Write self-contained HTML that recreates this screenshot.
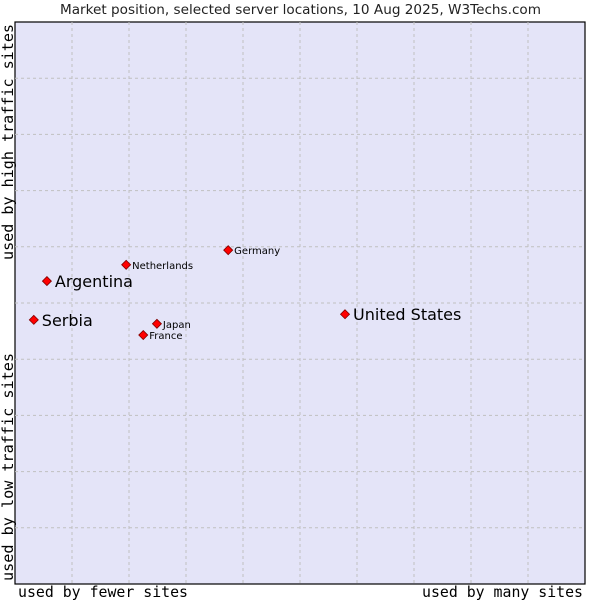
<!DOCTYPE html>
<html><head><meta charset="utf-8"><style>
body{margin:0;background:#fff;}
svg{display:block;font-family:"DejaVu Sans","Liberation Sans",sans-serif;}
</style></head><body>
<svg id="c" width="600" height="600">
<text x="60" y="14" textLength="481" lengthAdjust="spacingAndGlyphs" font-size="13.3" fill="#222">Market position, selected server locations, 10 Aug 2025, W3Techs.com</text>
<rect x="15" y="22" width="570" height="562" fill="#e4e4f8" stroke="#000" stroke-width="1.2"/>
<g id="grid"></g>
<g id="pts"></g>
<text x="18" y="597" textLength="170" lengthAdjust="spacingAndGlyphs" font-family="DejaVu Sans Mono,Liberation Mono,monospace" font-size="15" fill="#000">used by fewer sites</text>
<text x="422" y="597" textLength="161" lengthAdjust="spacingAndGlyphs" font-family="DejaVu Sans Mono,Liberation Mono,monospace" font-size="15" fill="#000">used by many sites</text>
<text transform="translate(13,260) rotate(-90)" textLength="236" lengthAdjust="spacingAndGlyphs" font-family="DejaVu Sans Mono,Liberation Mono,monospace" font-size="15" fill="#000">used by high traffic sites</text>
<text transform="translate(13,581) rotate(-90)" textLength="228" lengthAdjust="spacingAndGlyphs" font-family="DejaVu Sans Mono,Liberation Mono,monospace" font-size="15" fill="#000">used by low traffic sites</text>
</svg>
<script>
const names=["United States","Argentina","Serbia","Netherlands","Germany","Japan","France"];
const xVals=[57.9,5.6,3.3,19.5,37.4,24.9,22.5];
const yVals=[48.0,53.9,47.0,56.8,59.4,46.3,44.3];
const bigLabel=[true,true,true,false,false,false,false];
const X0=15,W=570,Y0=22,H=562;
const sx=v=>X0+v/100*W, sy=v=>Y0+H-v/100*H;
const NS="http://www.w3.org/2000/svg";
const grid=document.getElementById('grid');
for(let i=1;i<10;i++){
 const l=document.createElementNS(NS,'line');
 
 
 l.setAttribute('x1',sx(i*10));l.setAttribute('x2',sx(i*10));l.setAttribute('y1',Y0);l.setAttribute('y2',Y0+H);
 l.setAttribute('stroke','#c0c0c0');l.setAttribute('stroke-dasharray','3,3');grid.appendChild(l);
 const m=document.createElementNS(NS,'line');
 
 
 m.setAttribute('y1',sy(i*10));m.setAttribute('y2',sy(i*10));m.setAttribute('x1',X0);m.setAttribute('x2',X0+W);
 m.setAttribute('stroke','#c0c0c0');m.setAttribute('stroke-dasharray','3,3');grid.appendChild(m);
}
const pts=document.getElementById('pts');
names.forEach((n,i)=>{
 const x=sx(xVals[i]),y=sy(yVals[i]);
 const d=document.createElementNS(NS,'polygon');
 
 
 d.setAttribute('points',`${x},${y-4.5} ${x+4.5},${y} ${x},${y+4.5} ${x-4.5},${y}`);
 d.setAttribute('fill','#ff0000');d.setAttribute('stroke','#800000');d.setAttribute('stroke-width','0.8');
 pts.appendChild(d);
 const t=document.createElementNS(NS,'text');
 
 
 t.setAttribute('x',x+(bigLabel[i]?8:6));t.setAttribute('y',y+(bigLabel[i]?6:4));
 t.setAttribute('font-size',bigLabel[i]?'16':'10');t.setAttribute('fill','#000');
 t.textContent=n;pts.appendChild(t);
});
</script>
</body></html>
